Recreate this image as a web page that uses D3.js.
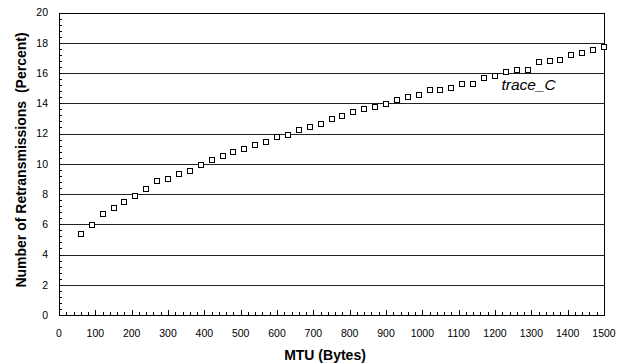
<!DOCTYPE html>
<html>
<head>
<meta charset="utf-8">
<script src="https://cdn.jsdelivr.net/npm/d3@7"></script>
<style>
  body { margin: 0; background: #fff; }
  svg { display: block; font-family: "Liberation Sans", Arial, sans-serif; }
</style>
</head>
<body>
<div id="chart"></div>
<script>
// MTU sizes (bytes) and retransmission percentages
const mtu = [60, 90, 120, 150, 180, 210, 240, 270, 300, 330, 360, 390, 420, 450, 480,
  510, 540, 570, 600, 630, 660, 690, 720, 750, 780, 810, 840, 870, 900, 930, 960, 990,
  1020, 1050, 1080, 1110, 1140, 1170, 1200, 1230, 1260, 1290, 1320, 1350, 1380, 1410,
  1440, 1470, 1500];
const retrans = [5.35, 5.95, 6.65, 7.05, 7.45, 7.85, 8.35, 8.85, 9.0, 9.3, 9.55, 9.95,
  10.25, 10.5, 10.75, 10.95, 11.25, 11.45, 11.75, 11.9, 12.2, 12.4, 12.65, 12.95, 13.15,
  13.4, 13.6, 13.75, 13.95, 14.2, 14.4, 14.55, 14.85, 14.9, 15.0, 15.25, 15.3, 15.65,
  15.8, 16.05, 16.2, 16.2, 16.75, 16.8, 16.85, 17.2, 17.35, 17.5, 17.75];
const xTicks = d3.range(0, 1501, 100);
const yTicks = d3.range(0, 21, 2);
const seriesName = 'trace_C';

const width = 626, height = 364;
const margin = { top: 12.5, right: 22, bottom: 49, left: 59 };

const svg = d3.select('#chart').append('svg')
  .attr('width', width)
  .attr('height', height);

const x = d3.scaleLinear().domain([0, 1500]).range([margin.left, width - margin.right]);
const y = d3.scaleLinear().domain([0, 20]).range([height - margin.bottom, margin.top]);

// horizontal grid lines
svg.append('g')
  .selectAll('line')
  .data(yTicks.filter(d => d > 0 && d < 20))
  .enter().append('line')
  .attr('x1', x(0)).attr('x2', x(1500))
  .attr('y1', d => Math.round(y(d)) + 0.5)
  .attr('y2', d => Math.round(y(d)) + 0.5)
  .attr('stroke', '#222')
  .attr('stroke-width', 1);

// minor ticks, pointing inwards
svg.append('g')
  .selectAll('line')
  .data(d3.range(0, 1501, 20))
  .enter().append('line')
  .attr('x1', d => Math.round(x(d)) + 0.5)
  .attr('x2', d => Math.round(x(d)) + 0.5)
  .attr('y1', y(0))
  .attr('y2', d => y(0) - (d % 100 === 0 ? 5 : 3))
  .attr('stroke', '#000');

svg.append('g')
  .selectAll('line')
  .data(d3.range(0, 20.01, 0.4))
  .enter().append('line')
  .attr('y1', d => Math.round(y(d)) + 0.5)
  .attr('y2', d => Math.round(y(d)) + 0.5)
  .attr('x1', x(0))
  .attr('x2', x(0) + 3)
  .attr('stroke', '#000');

// frame
svg.append('rect')
  .attr('x', Math.round(x(0)) + 0.5)
  .attr('y', Math.round(y(20)) + 0.5)
  .attr('width', Math.round(x(1500)) - Math.round(x(0)))
  .attr('height', Math.round(y(0)) - Math.round(y(20)))
  .attr('fill', 'none')
  .attr('stroke', '#000')
  .attr('stroke-width', 1);

// tick labels
svg.append('g')
  .selectAll('text')
  .data(xTicks)
  .enter().append('text')
  .attr('x', d => x(d))
  .attr('y', 337)
  .attr('text-anchor', 'middle')
  .attr('font-size', '10.5px')
  .attr('fill', '#000')
  .text(d => d);

svg.append('g')
  .selectAll('text')
  .data(yTicks)
  .enter().append('text')
  .attr('x', 48)
  .attr('y', d => y(d))
  .attr('dy', '0.36em')
  .attr('text-anchor', 'end')
  .attr('font-size', '10.5px')
  .attr('fill', '#000')
  .text(d => d);

// axis titles
svg.append('text')
  .attr('x', 325)
  .attr('y', 360)
  .attr('text-anchor', 'middle')
  .attr('font-size', '14px')
  .attr('font-weight', 'bold')
  .text('MTU (Bytes)');

svg.append('text')
  .attr('transform', 'translate(26, 160) rotate(-90)')
  .attr('text-anchor', 'middle')
  .attr('font-size', '14px')
  .attr('font-weight', 'bold')
  .attr('xml:space', 'preserve')
  .style('white-space', 'pre')
  .text('Number of Retransmissions  (Percent)');

// data points: hollow squares
svg.append('g')
  .selectAll('rect')
  .data(mtu.map((m, i) => [m, retrans[i]]))
  .enter().append('rect')
  .attr('x', d => Math.round(x(d[0])) - 2.5)
  .attr('y', d => Math.round(y(d[1])) - 2.5)
  .attr('width', 5)
  .attr('height', 5)
  .attr('fill', '#fff')
  .attr('stroke', '#000')
  .attr('stroke-width', 1);

// series label
svg.append('text')
  .attr('x', x(1218))
  .attr('y', y(14.88))
  .attr('font-size', '15.5px')
  .attr('font-style', 'italic')
  .text(seriesName);
</script>
</body>
</html>
